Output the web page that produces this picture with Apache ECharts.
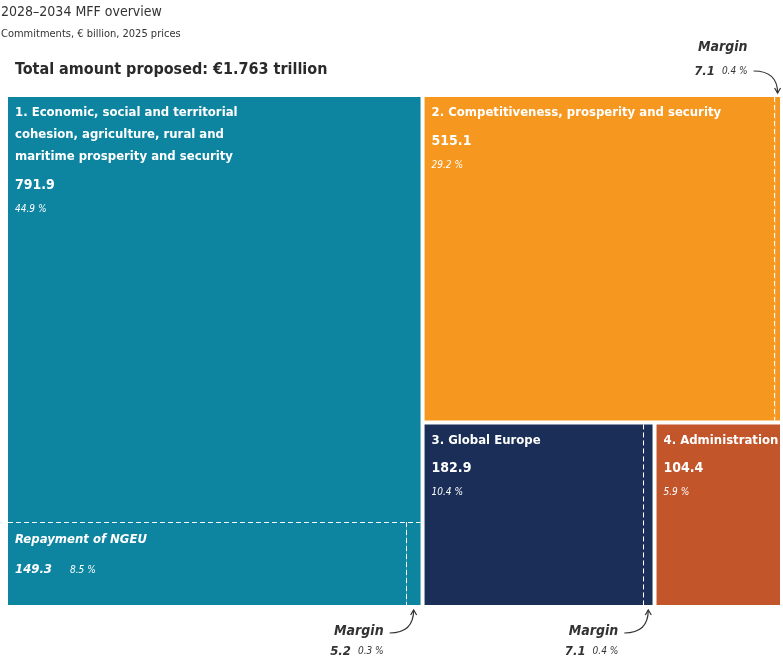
<!DOCTYPE html>
<html>
<head>
<meta charset="utf-8">
<title>2028–2034 MFF overview</title>
<script src="https://cdn.jsdelivr.net/npm/echarts@6/dist/echarts.min.js"></script>
<style>
    html, body { margin: 0; padding: 0; background: #fff; }
    #chart { width: 783px; height: 665px; }
</style>
</head>
<body>
<div id="chart"></div>
<script>
const FONT = '"Liberation Sans Narrow", "DejaVu Sans Condensed", "Noto Sans", sans-serif';
const TEXT_DARK = '#333333';

// MFF headings
const headingNames = [
    '1. Economic, social and territorial\ncohesion, agriculture, rural and\nmaritime prosperity and security',
    '2. Competitiveness, prosperity and security',
    '3. Global Europe',
    '4. Administration'
];
const headingValues = [791.9, 515.1, 182.9, 104.4];
const headingShares = [44.9, 29.2, 10.4, 5.9];
const headingColors = ['#0d84a0', '#f6981f', '#1a2e58', '#c3552a'];

// margins inside the headings (heading 4 has none)
const marginValues = [5.2, 7.1, 7.1, null];
const marginShares = [0.3, 0.4, 0.4, null];

// NGEU repayment, inside heading 1
const ngeuName = 'Repayment of NGEU';
const ngeuValue = 149.3;
const ngeuShare = 8.5;

// treemap box
const BOX_LEFT = 8;
const BOX_TOP = 97;

// build the tree
const treeData = headingNames.map((name, i) => {
    const color = headingColors[i];
    const children = [{
        name: name,
        value: headingValues[i],
        share: headingShares[i],
        kind: 'main',
        itemStyle: {color: color}
    }];
    if (i === 0) {
        children.push({
            name: ngeuName,
            value: ngeuValue,
            share: ngeuShare,
            kind: 'ngeu',
            itemStyle: {color: color},
            label: {padding: [7, 7]}
        });
    }
    if (marginValues[i] != null) {
        children.push({
            name: 'Margin',
            value: marginValues[i],
            share: marginShares[i],
            kind: 'margin',
            heading: i,
            itemStyle: {color: color},
            label: {show: false}
        });
    }
    return {name: 'heading' + (i + 1), itemStyle: {color: color}, children: children};
});

const option = {
    animation: false,
    textStyle: {fontFamily: FONT},
    title: [
        {
            text: '2028–2034 MFF overview',
            left: 1, top: 5, padding: 0,
            textStyle: {fontFamily: FONT, fontSize: 14, fontWeight: 'normal', color: TEXT_DARK}
        },
        {
            text: 'Commitments, € billion, 2025 prices',
            left: 1, top: 29, padding: 0,
            textStyle: {fontFamily: FONT, fontSize: 11, fontWeight: 'normal', color: TEXT_DARK}
        },
        {
            text: 'Total amount proposed: €1.763 trillion',
            left: 15, top: 62, padding: 0,
            textStyle: {fontFamily: FONT, fontSize: 16, fontWeight: 'bold', color: '#2a2a2a'}
        }
    ],
    series: [{
        type: 'treemap',
        left: BOX_LEFT,
        top: BOX_TOP,
        right: 3,
        bottom: 60,
        roam: false,
        nodeClick: false,
        breadcrumb: {show: false},
        data: treeData,
        levels: [
            {itemStyle: {borderWidth: 0, gapWidth: 4}},
            {itemStyle: {borderWidth: 0, gapWidth: 0}},
            {itemStyle: {borderWidth: 0, gapWidth: 0}}
        ],
        label: {
            show: true,
            position: 'insideTopLeft',
            distance: 0,
            padding: [5, 7],
            overflow: 'none',
            fontFamily: FONT,
            formatter: function (p) {
                const d = p.data;
                if (d.kind === 'ngeu') {
                    return `{nName|${d.name}}\n{nVal|${d.value.toFixed(1)}}{nPct|${d.share} %}`;
                }
                return `{name|${d.name}}\n{val|${d.value.toFixed(1)}}\n{pct|${d.share} %}`;
            },
            rich: {
                name: {fontFamily: FONT, fontSize: 13, fontWeight: 'bold', color: '#fff', lineHeight: 22},
                val: {fontFamily: FONT, fontSize: 14, fontWeight: 'bold', color: '#fff', lineHeight: 34},
                pct: {fontFamily: FONT, fontSize: 10, fontStyle: 'italic', color: '#fff', lineHeight: 14},
                nName: {fontFamily: FONT, fontSize: 13, fontWeight: 'bold', fontStyle: 'italic', color: '#fff', lineHeight: 22},
                nVal: {fontFamily: FONT, fontSize: 13, fontWeight: 'bold', fontStyle: 'italic', color: '#fff', lineHeight: 38},
                nPct: {fontFamily: FONT, fontSize: 10, fontStyle: 'italic', color: '#fff', lineHeight: 38, padding: [0, 0, 0, 18]}
            }
        },
        upperLabel: {show: false},
        emphasis: {disabled: true}
    }]
};

const chart = echarts.init(document.getElementById('chart'));
chart.setOption(option);

// absolute rect of a tree node, from the treemap layout
function nodeRect(node, origin) {
    let x = origin.x;
    let y = origin.y;
    let n = node;
    while (n) {
        const l = n.getLayout();
        if (l) {
            x += l.x || 0;
            y += l.y || 0;
        }
        n = n.parentNode;
    }
    const own = node.getLayout();
    return {x: x, y: y, width: own.width, height: own.height};
}

// dashed separators and margin annotations
function addAnnotations() {
    const seriesModel = chart.getModel().getSeriesByIndex(0);
    const info = seriesModel.layoutInfo || {x: BOX_LEFT, y: BOX_TOP};
    const data = seriesModel.getData();
    const tree = data.tree;
    const graphics = [];
    const dash = {stroke: '#fff', lineWidth: 1, lineDash: [5, 3]};

    tree.root.children.forEach((heading) => {
        const hRect = nodeRect(heading, info);
        heading.children.forEach((leaf) => {
            const d = data.getRawDataItem(leaf.dataIndex);
            const r = nodeRect(leaf, info);
            if (d.kind === 'ngeu') {
                graphics.push({
                    type: 'line', silent: true, z: 100,
                    shape: {x1: hRect.x, y1: Math.round(r.y) + 0.5, x2: hRect.x + hRect.width, y2: Math.round(r.y) + 0.5},
                    style: dash
                });
            }
            if (d.kind !== 'margin') {
                return;
            }
            const lx = Math.round(r.x) - 0.5;
            graphics.push({
                type: 'line', silent: true, z: 100,
                shape: {x1: lx, y1: r.y, x2: lx, y2: r.y + r.height},
                style: dash
            });

            const above = d.heading === 1;
            const tipX = r.x + r.width / 2;
            const tipY = above ? r.y - 4 : r.y + r.height + 5;
            const textRight = tipX - 30;
            const nameTop = above ? r.y - 57 : r.y + r.height + 19;
            const valTop = above ? nameTop + 25 : nameTop + 21;
            const startY = above ? valTop + 6 : nameTop + 9;

            graphics.push({
                type: 'text', silent: true, z: 100,
                style: {
                    text: 'Margin', x: textRight, y: nameTop, align: 'right', verticalAlign: 'top',
                    font: 'italic bold 14px ' + FONT, fill: TEXT_DARK
                }
            });
            graphics.push({
                type: 'text', silent: true, z: 100,
                style: {
                    text: `{v|${d.value.toFixed(1)}}{p|${d.share} %}`, x: textRight, y: valTop,
                    align: 'right', verticalAlign: 'top',
                    rich: {
                        v: {fontFamily: FONT, fontSize: 13, fontWeight: 'bold', fontStyle: 'italic', fill: TEXT_DARK, padding: [0, 7, 0, 0]},
                        p: {fontFamily: FONT, fontSize: 10, fontStyle: 'italic', fill: TEXT_DARK}
                    }
                }
            });
            // curved pointer to the margin strip
            const sx = textRight + 6;
            graphics.push({
                type: 'bezierCurve', silent: true, z: 100,
                shape: {x1: sx, y1: startY, cpx1: tipX, cpy1: startY, x2: tipX, y2: tipY},
                style: {stroke: TEXT_DARK, lineWidth: 1.2, fill: null}
            });
            const s = above ? -1 : 1;
            graphics.push({
                type: 'polyline', silent: true, z: 100,
                shape: {points: [[tipX - 3, tipY + 5 * s], [tipX, tipY], [tipX + 3, tipY + 5 * s]]},
                style: {stroke: TEXT_DARK, lineWidth: 1.2, fill: null}
            });
        });
    });
    chart.setOption({graphic: graphics});
}

addAnnotations();
</script>
</body>
</html>
